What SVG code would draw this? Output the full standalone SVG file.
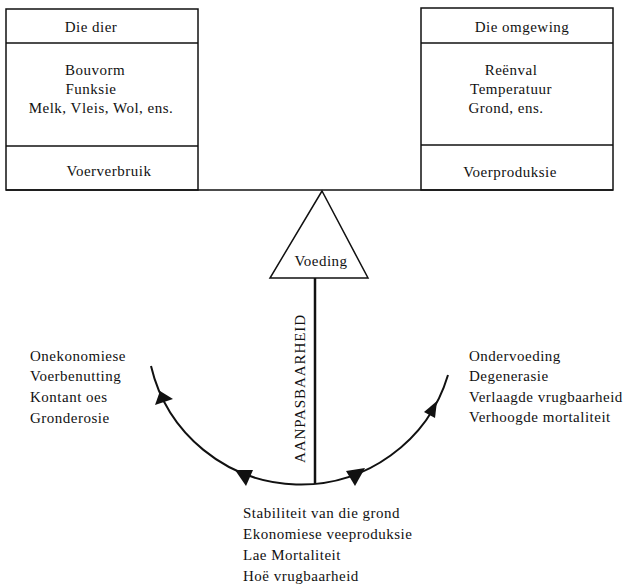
<svg xmlns="http://www.w3.org/2000/svg" width="628" height="586" viewBox="0 0 628 586">
<style>
text{font-family:"Liberation Serif","Times New Roman",serif;font-size:15px;fill:#111;letter-spacing:0.5px}
.m{text-anchor:middle}
.box{fill:none;stroke:#111;stroke-width:1.5}
.ln{fill:none;stroke:#111;stroke-width:2}
.ah{fill:#111;stroke:none}
</style>
<rect width="628" height="586" fill="#fff"/>
<g id="node-dier">
<rect class="box" x="6" y="9" width="192" height="181"/>
<line class="box" x1="6" y1="43" x2="198" y2="43"/>
<line class="box" x1="6" y1="146" x2="198" y2="146"/>
<text class="m" x="91" y="32">Die dier</text>
<text class="m" x="95" y="75">Bouvorm</text>
<text class="m" x="91" y="94">Funksie</text>
<text class="m" x="101" y="113">Melk, Vleis, Wol, ens.</text>
<text class="m" x="109" y="176">Voerverbruik</text>
</g>
<g id="node-omgewing">
<rect class="box" x="421" y="8" width="192" height="182"/>
<line class="box" x1="421" y1="43" x2="613" y2="43"/>
<line class="box" x1="421" y1="145" x2="613" y2="145"/>
<text class="m" x="522" y="32">Die omgewing</text>
<text class="m" x="511" y="75">Reënval</text>
<text class="m" x="511" y="94">Temperatuur</text>
<text class="m" x="506" y="113">Grond, ens.</text>
<text class="m" x="510" y="177">Voerproduksie</text>
</g>
<g id="node-voeding">
<polygon class="box" points="322,191 270,278 368,278"/>
<text class="m" x="321" y="266">Voeding</text>
</g>
<g id="connectors">
<line class="box" x1="6" y1="190" x2="613" y2="190"/>
<line x1="315" y1="278" x2="315" y2="484" stroke="#111" stroke-width="2.5"/>
<path class="ln" d="M151,366 A153.8,153.8 0 0 0 448,375"/>
<polygon class="ah" points="160,391 155,405 173,399"/>
<polygon class="ah" points="235,470 253,470 246,486"/>
<polygon class="ah" points="346,471 365,468 355,486"/>
<polygon class="ah" points="437,401 424,412 435,418"/>
<text class="m" transform="translate(305,389) rotate(-90)" textLength="148" lengthAdjust="spacing" style="font-size:15px;letter-spacing:0">AANPASBAARHEID</text>
</g>
<g id="text-links">
<text x="30" y="361">Onekonomiese</text>
<text x="30" y="381">Voerbenutting</text>
<text x="30" y="402">Kontant oes</text>
<text x="30" y="423">Gronderosie</text>
</g>
<g id="text-regs">
<text x="469" y="361">Ondervoeding</text>
<text x="469" y="381">Degenerasie</text>
<text x="469" y="402">Verlaagde vrugbaarheid</text>
<text x="469" y="422">Verhoogde mortaliteit</text>
</g>
<g id="text-onder">
<text x="243" y="518">Stabiliteit van die grond</text>
<text x="243" y="539">Ekonomiese veeproduksie</text>
<text x="243" y="560">Lae Mortaliteit</text>
<text x="243" y="581">Hoë vrugbaarheid</text>
</g>
</svg>
